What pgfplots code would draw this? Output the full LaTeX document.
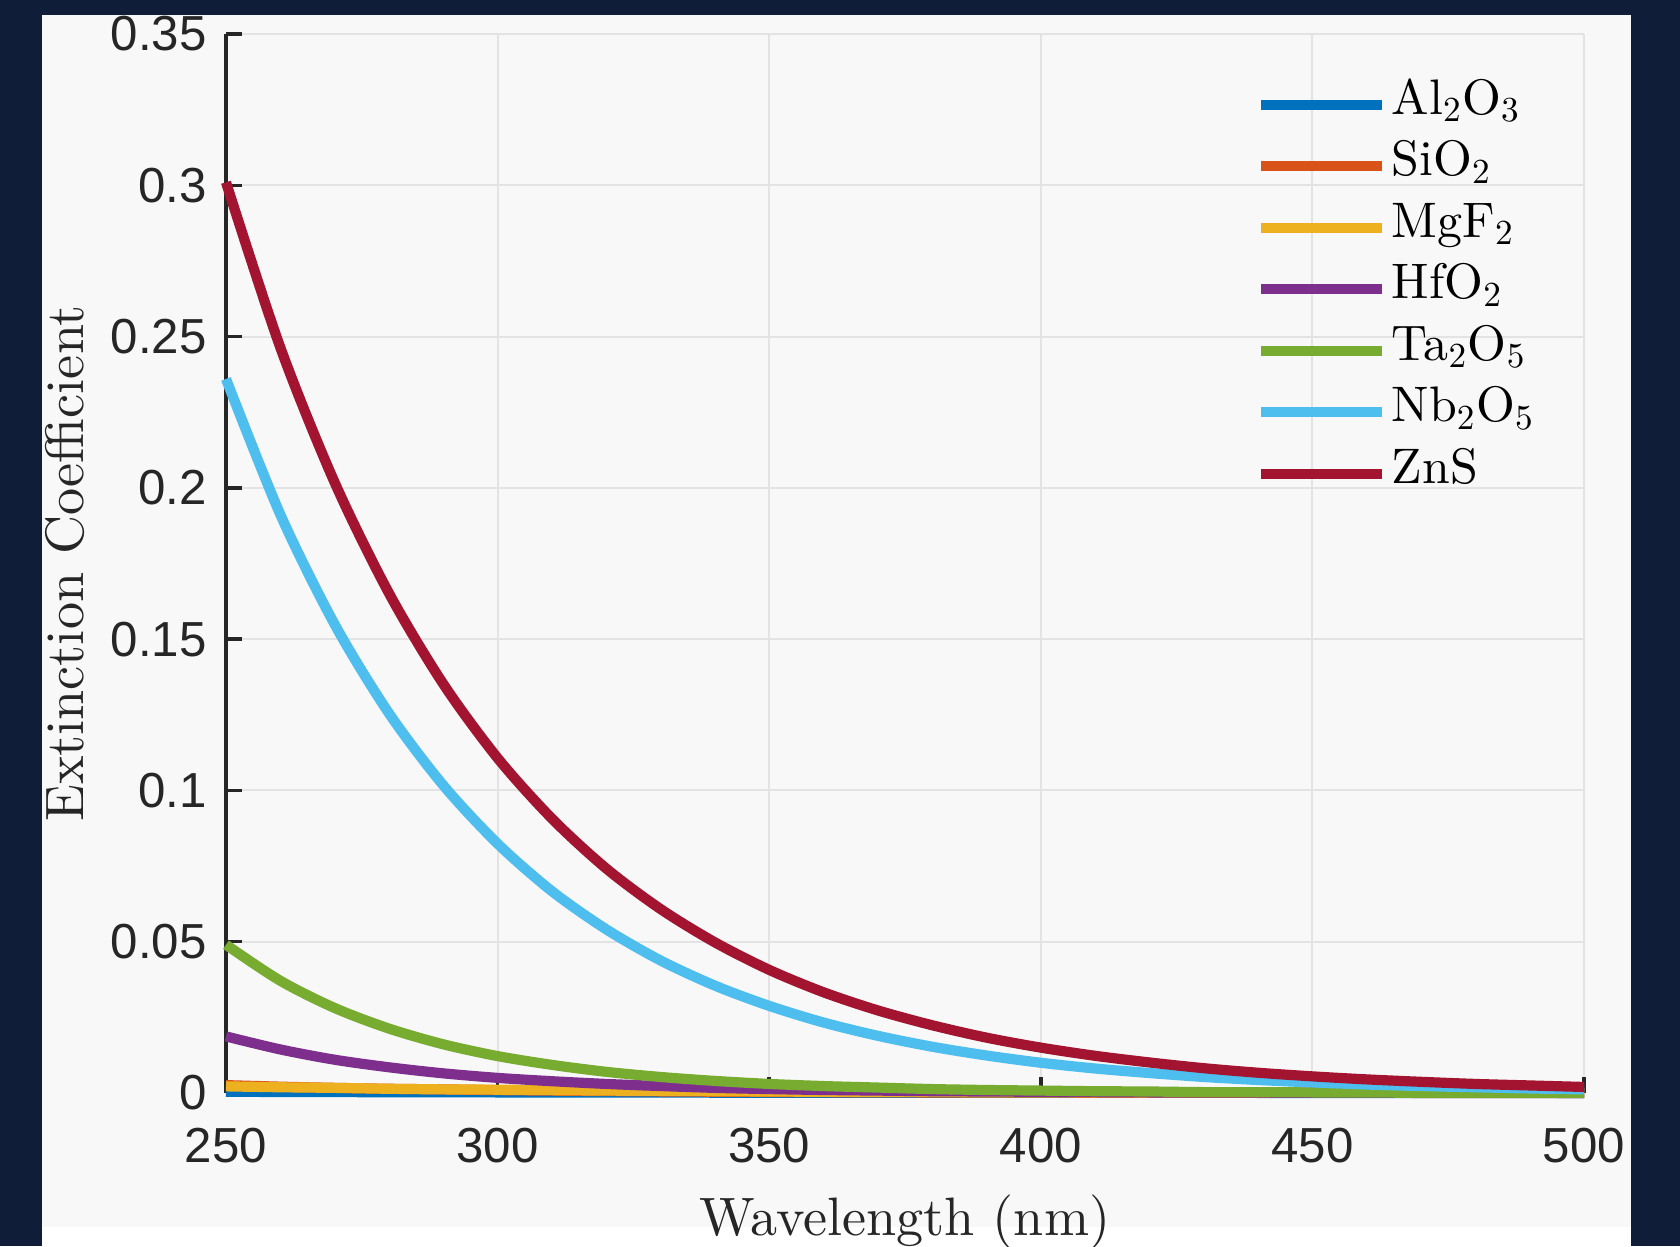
\documentclass[border=0pt]{standalone}
\usepackage{fontspec}
\setmainfont{lmroman10-regular.otf}
\newfontfamily\ticksf{Liberation Sans}
\usepackage{pgfplots}
\pgfplotsset{compat=1.18}

\definecolor{navybg}{RGB}{16,29,56}
\definecolor{panel}{RGB}{248,248,248}
\definecolor{axgray}{RGB}{38,38,38}
\definecolor{cAl}{rgb}{0,0.447,0.741}
\definecolor{cSi}{rgb}{0.85,0.325,0.098}
\definecolor{cMg}{rgb}{0.929,0.694,0.125}
\definecolor{cHf}{rgb}{0.494,0.184,0.556}
\definecolor{cTa}{rgb}{0.466,0.674,0.188}
\definecolor{cNb}{rgb}{0.301,0.745,0.933}
\definecolor{cZn}{rgb}{0.635,0.078,0.184}

\begin{document}
\begin{tikzpicture}
% dark frame and the light panel
\fill[navybg] (0,0) rectangle (16.8,12.46);
\fill[panel] (0.42,0.19) rectangle (16.31,12.31);
\fill[white] (0.42,0) rectangle (16.31,0.19);
\begin{axis}[
    at={(2.26cm,1.53cm)}, anchor=south west,
    scale only axis, width=13.58cm, height=10.59cm,
    xmin=250, xmax=500, ymin=0, ymax=0.35,
    axis lines=left,
    axis line style={-, axgray, line width=1pt},
    tick align=inside,
    major tick length=1.6mm,
    tick style={axgray, line width=1pt},
    xtick={250,300,350,400,450,500},
    xticklabels={250,300,350,400,450,500},
    ytick={0,0.05,0.1,0.15,0.2,0.25,0.3,0.35},
    yticklabels={0,0.05,0.1,0.15,0.2,0.25,0.3,0.35},
    ticklabel style={font=\ticksf\fontsize{14}{14}\selectfont, text=axgray},
    xticklabel style={yshift=-2.3mm},
    yticklabel style={xshift=-0.7mm},
    grid=major,
    grid style={gray!22, line width=0.6pt},
    xlabel={Wavelength (nm)},
    ylabel={Extinction Coefficient},
    label style={font=\fontsize{15.4}{15.4}\selectfont, text=axgray},
    xlabel style={at={(axis description cs:0.5,-0.135)}, anchor=base},
    ylabel style={at={(axis description cs:-0.1046,0.5)}, anchor=base},
    clip=false,
    every axis plot/.append style={line width=2.9pt, smooth},
    legend cell align=left,
    legend image code/.code={\draw[#1, sharp plot] (0mm,0mm) -- (12.1mm,0mm);},
    legend style={draw=none, fill=none, at={(0.758,0.963)}, anchor=north west,
        inner sep=0pt, row sep=0pt, font=\fontsize{14.2}{14.2}\selectfont,
        nodes={inner ysep=0pt, inner xsep=0.45mm, text height=11.5pt, text depth=6pt}},
]
\addplot[cAl] coordinates {
    (250,0.0004)(270,0.0003)(300,0.0002)(350,0.0001)(400,0.00005)(500,0.00002)
};
\addlegendentry{Al$_2$O$_3$}
\addplot[cSi] coordinates {
    (250,0.0026)(260,0.0021)(270,0.0017)(280,0.0014)(290,0.0012)(300,0.00096)
    (320,0.00064)(340,0.00043)(360,0.00029)(380,0.00019)(400,0.00013)
    (450,0.00005)(500,0.00002)
};
\addlegendentry{SiO$_2$}
\addplot[cMg] coordinates {
    (250,0.0022)(260,0.0019)(270,0.0017)(280,0.0014)(290,0.0012)(300,0.0011)
    (320,0.0008)(340,0.0006)(360,0.0004)(380,0.0003)(400,0.00025)
    (450,0.00012)(500,0.00006)
};
\addlegendentry{MgF$_2$}
\addplot[cHf] coordinates {
    (250,0.0187)(260,0.0144)(270,0.0110)(280,0.0085)(290,0.0065)(300,0.0050)
    (310,0.0039)(320,0.0030)(330,0.0023)(340,0.0017)(350,0.0013)(360,0.0010)
    (370,0.0008)(380,0.0006)(390,0.0005)(400,0.0004)(420,0.0002)(450,0.0001)
    (500,0.00003)
};
\addlegendentry{HfO$_2$}
\addplot[cTa] coordinates {
    (250,0.0490)(260,0.0371)(270,0.0281)(280,0.0213)(290,0.0161)(300,0.0122)
    (310,0.0093)(320,0.0070)(330,0.0053)(340,0.0040)(350,0.0030)(360,0.0023)
    (370,0.0018)(380,0.0013)(390,0.0010)(400,0.0008)(410,0.0006)(420,0.0005)
    (430,0.0003)(440,0.0003)(450,0.0002)(470,0.0001)(500,0.00005)
};
\addlegendentry{Ta$_2$O$_5$}
\addplot[cNb] coordinates {
    (250,0.2360)(260,0.1912)(270,0.1549)(280,0.1255)(290,0.1017)(300,0.0824)
    (310,0.0667)(320,0.0541)(330,0.0438)(340,0.0355)(350,0.0288)(360,0.0233)
    (370,0.0189)(380,0.0153)(390,0.0124)(400,0.0100)(410,0.0081)(420,0.0066)
    (430,0.0053)(440,0.0043)(450,0.0035)(460,0.0028)(470,0.0023)(480,0.0019)
    (490,0.0015)(500,0.0012)
};
\addlegendentry{Nb$_2$O$_5$}
\addplot[cZn] coordinates {
    (250,0.3010)(260,0.2464)(270,0.2018)(280,0.1652)(290,0.1352)(300,0.1107)
    (310,0.0907)(320,0.0742)(330,0.0608)(340,0.0498)(350,0.0407)(360,0.0333)
    (370,0.0273)(380,0.0224)(390,0.0183)(400,0.0150)(410,0.0123)(420,0.0101)
    (430,0.0082)(440,0.0067)(450,0.0055)(460,0.0045)(470,0.0037)(480,0.0030)
    (490,0.0025)(500,0.0020)
};
\addlegendentry{ZnS}
\end{axis}
\pgfresetboundingbox
\path[use as bounding box] (0,0) rectangle (16.8,12.46);
\end{tikzpicture}
\end{document}
